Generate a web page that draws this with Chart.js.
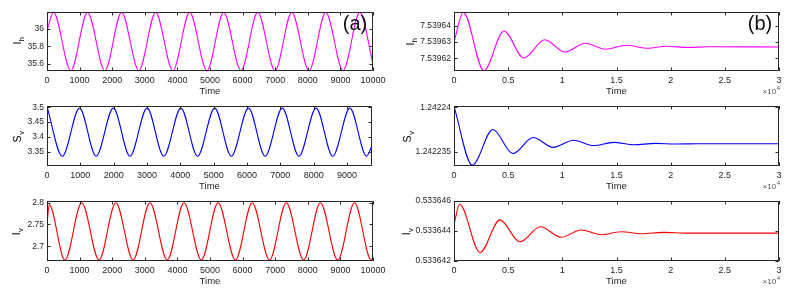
<!DOCTYPE html>
<html>
<head>
<meta charset="utf-8">
<script src="https://cdn.jsdelivr.net/npm/chart.js@4/dist/chart.umd.min.js"></script>
<style>
    html, body { margin: 0; padding: 0; background: #fff; }
    #fig { position: relative; width: 792px; height: 294px; overflow: hidden; }
    #fig canvas { position: absolute; }
</style>
</head>
<body>
<div id="fig">
    <canvas id="ihA" width="396" height="100" style="left:0;top:0;width:396px;height:100px"></canvas>
    <canvas id="svA" width="396" height="100" style="left:0;top:95px;width:396px;height:100px"></canvas>
    <canvas id="ivA" width="396" height="100" style="left:0;top:190px;width:396px;height:100px"></canvas>
    <canvas id="ihB" width="396" height="100" style="left:396px;top:0;width:396px;height:100px"></canvas>
    <canvas id="svB" width="396" height="100" style="left:396px;top:95px;width:396px;height:100px"></canvas>
    <canvas id="ivB" width="396" height="100" style="left:396px;top:190px;width:396px;height:100px"></canvas>
</div>
<script>
// (a) periodic solution, values at extrema
const ihTimeA = [0, 200, 730, 1244, 1774, 2288, 2818, 3332, 3862, 4376, 4906, 5420, 5950, 6464, 6994, 7508, 8038, 8552, 9082, 9596, 10000];
const ihValueA = [35.98, 36.185, 35.525, 36.185, 35.525, 36.185, 35.525, 36.185, 35.525, 36.185, 35.525, 36.185, 35.525, 36.185, 35.525, 36.185, 35.525, 36.185, 35.525, 36.185, 35.60];

const svTimeA = [0, 460, 975, 1474, 1989, 2488, 3003, 3502, 4017, 4516, 5031, 5530, 6045, 6544, 7059, 7558, 8073, 8572, 9087, 9586, 9750];
const svValueA = [3.502, 3.335, 3.497, 3.335, 3.497, 3.335, 3.497, 3.335, 3.497, 3.335, 3.497, 3.335, 3.497, 3.335, 3.497, 3.335, 3.497, 3.335, 3.497, 3.335, 3.37];

const ivTimeA = [0, 70, 550, 1065, 1596, 2111, 2642, 3157, 3688, 4203, 4734, 5249, 5780, 6295, 6826, 7341, 7872, 8387, 8918, 9433, 9945, 10000];
const ivValueA = [2.752, 2.795, 2.668, 2.8, 2.668, 2.8, 2.668, 2.8, 2.668, 2.8, 2.668, 2.8, 2.668, 2.8, 2.668, 2.8, 2.668, 2.8, 2.668, 2.8, 2.668, 2.672];

// (b) damped solution
const ihTimeB = [0, 860, 2760, 4605, 6450, 8380, 10220, 12130, 13970, 15970, 17810, 19650, 21600, 23500, 30000];
const ihValueB = [7.53963, 7.539648, 7.5396126, 7.5396367, 7.5396203, 7.5396314, 7.5396239, 7.5396292, 7.5396256, 7.539628, 7.5396262, 7.5396274, 7.5396267, 7.5396271, 7.539627];

const svTimeB = [0, 1690, 3590, 5430, 7310, 9150, 11050, 12900, 14740, 16580, 18575, 20500, 22500, 30000];
const svValueB = [1.2422401, 1.2422335, 1.2422375, 1.2422348, 1.2422366, 1.2422355, 1.2422363, 1.2422357, 1.24223606, 1.24223579, 1.24223594, 1.24223588, 1.2422359, 1.2422359];

const ivTimeB = [0, 520, 2400, 4240, 6080, 7980, 9890, 11730, 13570, 15440, 17350, 19340, 21500, 30000];
const ivValueB = [0.53364446, 0.53364578, 0.53364257, 0.53364474, 0.53364328, 0.53364428, 0.53364358, 0.53364407, 0.53364375, 0.53364395, 0.53364382, 0.53364391, 0.53364386, 0.53364386];

// tick values and labels
const timeTicksA = [0, 1000, 2000, 3000, 4000, 5000, 6000, 7000, 8000, 9000, 10000];
const timeLabelsA = ['0', '1000', '2000', '3000', '4000', '5000', '6000', '7000', '8000', '9000', '10000'];
const timeTicksB = [0, 5000, 10000, 15000, 20000, 25000, 30000];
const timeLabelsB = ['0', '0.5', '1', '1.5', '2', '2.5', '3'];

const ihTicksA = [35.6, 35.8, 36];
const ihLabelsA = ['35.6', '35.8', '36'];
const svTicksA = [3.35, 3.4, 3.45, 3.5];
const svLabelsA = ['3.35', '3.4', '3.45', '3.5'];
const ivTicksA = [2.7, 2.75, 2.8];
const ivLabelsA = ['2.7', '2.75', '2.8'];
const ihTicksB = [7.53962, 7.53963, 7.53964];
const ihLabelsB = ['7.53962', '7.53963', '7.53964'];
const svTicksB = [1.242235, 1.24224];
const svLabelsB = ['1.242235', '1.24224'];
const ivTicksB = [0.533642, 0.533644, 0.533646];
const ivLabelsB = ['0.533642', '0.533644', '0.533646'];

const FONT = '"Liberation Sans", Arial, Helvetica, sans-serif';
const INK = '#262626';

Chart.defaults.font.family = FONT;
Chart.defaults.color = INK;

const matlabAxes = {
    id: 'matlabAxes',
    afterDatasetsDraw(chart, args, opts) {
        const { ctx, chartArea: a } = chart;
        const xs = chart.scales.x;
        const ys = chart.scales.y;
        ctx.save();
        ctx.strokeStyle = INK;
        ctx.lineWidth = 1;
        ctx.beginPath();
        ctx.rect(a.left + 0.5, a.top + 0.5, a.right - a.left - 1, a.bottom - a.top - 1);
        xs.ticks.forEach((t) => {
            const px = Math.round(xs.getPixelForValue(t.value)) + 0.5;
            ctx.moveTo(px, a.bottom);
            ctx.lineTo(px, a.bottom - 3.5);
            ctx.moveTo(px, a.top);
            ctx.lineTo(px, a.top + 3.5);
        });
        ys.ticks.forEach((t) => {
            const py = Math.round(ys.getPixelForValue(t.value)) + 0.5;
            ctx.moveTo(a.left, py);
            ctx.lineTo(a.left + 3.5, py);
            ctx.moveTo(a.right, py);
            ctx.lineTo(a.right - 3.5, py);
        });
        ctx.stroke();

        // rotated y label with subscript
        ctx.fillStyle = '#000';
        ctx.textBaseline = 'alphabetic';
        ctx.translate(opts.labelX, opts.labelY);
        ctx.rotate(-Math.PI / 2);
        ctx.font = `10.5px ${FONT}`;
        const mainW = ctx.measureText(opts.label[0]).width;
        ctx.font = `7.5px ${FONT}`;
        const subW = ctx.measureText(opts.label[1]).width;
        const x0 = -(mainW + subW) / 2;
        ctx.font = `10.5px ${FONT}`;
        ctx.fillText(opts.label[0], x0, 0);
        ctx.font = `7.5px ${FONT}`;
        ctx.fillText(opts.label[1], x0 + mainW + 0.5, 2.5);
        ctx.setTransform(1, 0, 0, 1, 0, 0);

        if (opts.letter) {
            ctx.font = `20px ${FONT}`;
            ctx.textAlign = 'center';
            ctx.textBaseline = 'middle';
            ctx.fillStyle = '#111';
            ctx.fillText(opts.letter, opts.letterX, opts.letterY);
        }
        if (opts.exponent) {
            ctx.fillStyle = '#555';
            ctx.textBaseline = 'alphabetic';
            ctx.textAlign = 'right';
            ctx.font = `6px ${FONT}`;
            const ew = ctx.measureText('4').width;
            ctx.fillText('4', a.right + 1, 90);
            ctx.font = `8px ${FONT}`;
            ctx.fillText('\u00d710', a.right + 1 - ew - 0.5, 94);
        }
        ctx.restore();
    },
};

const panels = [
    { id: 'ihA', t: ihTimeA, v: ihValueA, color: '#ff00ff', xMax: 10000, yMin: 35.52, yMax: 36.19,
      xt: timeTicksA, xl: timeLabelsA, yt: ihTicksA, yl: ihLabelsA, top: 12, yw: 47, right: 23,
      label: ['I', 'h'], labelX: 21, labelY: 41, letter: '(a)', letterX: 355, letterY: 24 },
    { id: 'svA', t: svTimeA, v: svValueA, color: '#0000ff', xMax: 9750, yMin: 3.302, yMax: 3.504,
      xt: timeTicksA.slice(0, 10), xl: timeLabelsA.slice(0, 10), yt: svTicksA, yl: svLabelsA, top: 11, yw: 47, right: 24,
      label: ['S', 'v'], labelX: 21, labelY: 42 },
    { id: 'ivA', t: ivTimeA, v: ivValueA, color: '#ff0000', xMax: 10000, yMin: 2.666, yMax: 2.804,
      xt: timeTicksA, xl: timeLabelsA, yt: ivTicksA, yl: ivLabelsA, top: 11, yw: 47, right: 23,
      label: ['I', 'v'], labelX: 20, labelY: 42 },
    { id: 'ihB', t: ihTimeB, v: ihValueB, color: '#ff00ff', xMax: 30000, yMin: 7.5396124, yMax: 7.5396482,
      xt: timeTicksB, xl: timeLabelsB, yt: ihTicksB, yl: ihLabelsB, top: 12, yw: 58, right: 13,
      label: ['I', 'h'], labelX: 18, labelY: 42, letter: '(b)', letterX: 364, letterY: 24, exponent: true },
    { id: 'svB', t: svTimeB, v: svValueB, color: '#0000ff', xMax: 30000, yMin: 1.2422334, yMax: 1.24224015,
      xt: timeTicksB, xl: timeLabelsB, yt: svTicksB, yl: svLabelsB, top: 11, yw: 58, right: 13,
      label: ['S', 'v'], labelX: 15, labelY: 42, exponent: true },
    { id: 'ivB', t: ivTimeB, v: ivValueB, color: '#ff0000', xMax: 30000, yMin: 0.533642, yMax: 0.533646,
      xt: timeTicksB, xl: timeLabelsB, yt: ivTicksB, yl: ivLabelsB, top: 11, yw: 58, right: 13,
      label: ['I', 'v'], labelX: 14, labelY: 42, exponent: true },
];

panels.forEach((p) => {
    new Chart(document.getElementById(p.id), {
        type: 'line',
        data: {
            datasets: [{
                data: p.t.map((t, i) => ({ x: t, y: p.v[i] })),
                borderColor: p.color,
                borderWidth: 1.1,
                pointRadius: 0,
                fill: false,
                cubicInterpolationMode: 'monotone',
            }],
        },
        options: {
            responsive: false,
            animation: false,
            layout: { padding: { top: p.top, right: p.right, left: 0, bottom: 0 } },
            plugins: {
                legend: { display: false },
                tooltip: { enabled: false },
                matlabAxes: p,
            },
            scales: {
                x: {
                    type: 'linear',
                    min: 0,
                    max: p.xMax,
                    grid: { display: false, drawTicks: false },
                    border: { display: false },
                    afterBuildTicks: (scale) => { scale.ticks = p.xt.map((v) => ({ value: v })); },
                    afterFit: (scale) => { scale.height = 29; },
                    ticks: {
                        autoSkip: false,
                        maxRotation: 0,
                        padding: 4,
                        color: INK,
                        font: { size: 9 },
                        callback: (value, i) => p.xl[i],
                    },
                    title: {
                        display: true,
                        text: 'Time',
                        color: INK,
                        font: { size: 9.5 },
                        padding: { top: 0, bottom: 3 },
                    },
                },
                y: {
                    min: p.yMin,
                    max: p.yMax,
                    grid: { display: false, drawTicks: false },
                    border: { display: false },
                    afterBuildTicks: (scale) => { scale.ticks = p.yt.map((v) => ({ value: v })); },
                    afterFit: (scale) => { scale.width = p.yw; },
                    ticks: {
                        autoSkip: false,
                        padding: 3,
                        color: INK,
                        font: { size: 8.5 },
                        callback: (value, i) => p.yl[i],
                    },
                },
            },
        },
        plugins: [matlabAxes],
    });
});
</script>
</body>
</html>
